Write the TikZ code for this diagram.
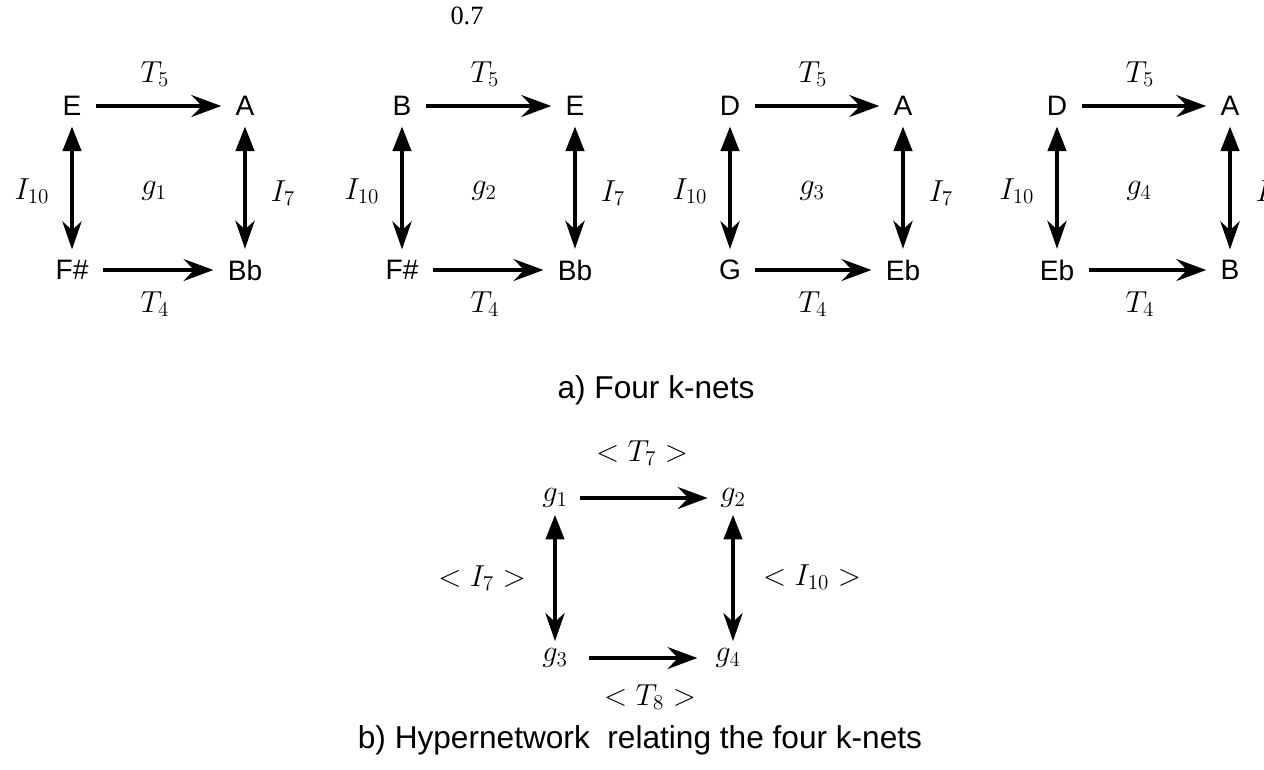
\documentclass[tikz,border=0pt]{standalone}
\usepackage{fontspec}
\setmainfont{Liberation Sans}
\newfontfamily\timesfont{Liberation Serif}
\usetikzlibrary{arrows.meta}

\tikzset{
  pitch/.style={font=\fontsize{16}{19}\selectfont, inner xsep=8pt, inner ysep=6pt},
  lbl/.style={font=\fontsize{18.5}{22}\selectfont},
  gnode/.style={lbl, inner xsep=7pt, inner ysep=4pt},
  caption/.style={font=\fontsize{18}{21}\selectfont},
  trans/.style={line width=1.8pt, -{Stealth[length=17pt,width=12.5pt,inset=6pt]}},
  invol/.style={line width=1.8pt, {Triangle[length=14pt,width=10.5pt]}-{Stealth[length=16pt,width=11pt,inset=5pt]}},
}

\begin{document}
\begin{tikzpicture}[x=0.02cm,y=-0.02cm]
  \clip (0,0) rectangle (1264,769);

  % number above the nets
  \node[font=\timesfont\fontsize{15}{18}\selectfont] (scale) at (467,16) {0.7};

  % the four k-nets, side by side
  \foreach \dx/\tl/\tr/\bl/\br/\g in {0/E/A/F\#/Bb/1, 330/B/E/F\#/Bb/2, 658/D/A/G/Eb/3, 985/D/A/Eb/B/4}{
    \node[pitch] (tl\g) at (72+\dx,106) {\tl};
    \node[pitch] (tr\g) at (245+\dx,106) {\tr};
    \node[pitch] (bl\g) at (72+\dx,270) {\bl};
    \node[pitch] (br\g) at (245+\dx,270) {\br};

    \draw[trans] (tl\g) -- (tr\g);
    \draw[trans] (bl\g) -- (br\g);
    \draw[invol] (tl\g.south) -- (bl\g.north);
    \draw[invol] (tr\g.south) -- (br\g.north);

    \node[lbl] (top\g) at (155+\dx,74) {$T_5$};
    \node[lbl] (bot\g) at (155+\dx,304) {$T_4$};
    \node[lbl] (left\g) at (32+\dx,191) {$I_{10}$};
    \node[lbl] (right\g) at (283+\dx,193) {$I_7$};
    \node[lbl] (name\g) at (154+\dx,191) {$g_\g$};
  }
  \node[caption] (capa) at (656,390) {a) Four k-nets};

  % hypernetwork of the k-nets
  \node[gnode] (g1) at (555,498) {$g_1$};
  \node[gnode] (g2) at (733,498) {$g_2$};
  \node[gnode] (g3) at (555,658) {$g_3$};
  \node[gnode] (g4) at (728,658) {$g_4$};

  \draw[trans] (g1) -- (g2);
  \draw[trans, shorten <=5pt, shorten >=3pt] (g3) -- (g4);
  \draw[invol] (g1.south) -- (g1.south |- g3.north);
  \draw[invol] (g2.south) -- (g2.south |- g4.north);

  \node[lbl] (t7) at (642,453) {$< T_7 >$};
  \node[lbl] (t8) at (650,697) {$< T_8 >$};
  \node[lbl] (i7) at (482,578) {$< I_7 >$};
  \node[lbl] (i10) at (812,577) {$< I_{10} >$};

  \node[caption] (capb) at (640,740) {b) Hypernetwork~ relating the four k-nets};
\end{tikzpicture}
\end{document}
